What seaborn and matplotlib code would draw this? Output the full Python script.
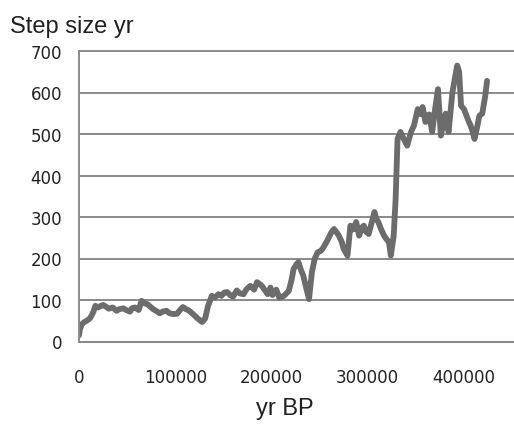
import matplotlib
matplotlib.use("Agg")
import pandas as pd
import seaborn as sns
import matplotlib.pyplot as plt

# Step size (yr) against age (kyr BP)
age_kyr = [0, 1, 3, 5, 8, 11, 13, 15, 17, 20, 22, 25, 28, 31, 35, 37, 39, 42, 46, 49,
           53, 55, 58, 62, 65, 68, 71, 74, 77, 80, 84, 87, 91, 94, 98, 102, 105, 108,
           111, 114, 119, 123, 128, 131, 134, 138, 141, 145, 148, 151, 154, 157, 160,
           164, 167, 171, 174, 178, 182, 185, 188, 190, 193, 196, 199, 201, 205, 208,
           213, 218, 221, 223, 226, 228, 231, 233, 236, 239, 242, 245, 248, 251, 253,
           256, 258, 262, 265, 268, 270, 273, 275, 279, 282, 285, 288, 291, 294, 296,
           298, 301, 304, 307, 309, 311, 314, 317, 320, 322, 324, 327, 329, 331, 334,
           337, 341, 345, 348, 352, 355, 357, 360, 362, 364, 367, 370, 373, 376, 378,
           381, 384, 388, 391, 393, 395, 397, 400, 402, 405, 407, 409, 411, 414, 416,
           419, 422, 424]
step_yr = [15, 30, 42, 46, 50, 55, 62, 72, 86, 82, 85, 88, 84, 79, 82, 78, 74, 78, 80,
           76, 72, 80, 82, 76, 98, 92, 90, 84, 78, 74, 68, 72, 74, 68, 66, 67, 76, 83,
           78, 75, 65, 56, 47, 55, 85, 110, 106, 114, 110, 118, 119, 112, 108, 123, 116,
           114, 126, 134, 125, 143, 138, 134, 124, 114, 130, 112, 125, 106, 110, 122,
           150, 175, 186, 191, 170, 159, 130, 102, 167, 200, 215, 218, 223, 235, 243,
           262, 271, 262, 255, 240, 223, 207, 279, 270, 288, 255, 275, 279, 265, 259,
           285, 312, 295, 288, 270, 255, 245, 240, 207, 255, 343, 488, 505, 490, 472,
           505, 520, 560, 548, 565, 529, 545, 547, 505, 560, 608, 496, 520, 549, 505,
           600, 640, 665, 650, 568, 560, 548, 530, 520, 505, 488, 520, 544, 549, 590,
           628]

df = pd.DataFrame({"age": [a * 1000 for a in age_kyr], "step": step_yr})

sns.set_style("white")
plt.rcParams["font.family"] = ["DejaVu Sans"]

fig = plt.figure(figsize=(5.14, 4.27), dpi=100)
ax = fig.add_axes([79 / 514, (427 - 342.5) / 427, (514 - 79) / 514, (342.5 - 52) / 427])

grid_c = "#8a8a8a"
sns.lineplot(data=df, x="age", y="step", ax=ax, color="#6c6c6c", linewidth=4.2,
             solid_joinstyle="round", solid_capstyle="round")

ax.set_xlim(0, 452000)
ax.set_ylim(0, 700)
ax.set_xticks(range(0, 400001, 100000))
ax.set_yticks(range(0, 701, 100))
ax.set_xlabel("")
ax.set_ylabel("")

ax.yaxis.grid(True, color=grid_c, linewidth=1.4)
for gl in ax.get_ygridlines():
    gl.set_clip_on(False)
ax.set_axisbelow(True)

for s in ["top", "right"]:
    ax.spines[s].set_visible(False)
for s in ["left", "bottom"]:
    ax.spines[s].set_color(grid_c)
    ax.spines[s].set_linewidth(1.4)

ax.tick_params(axis="y", direction="out", length=4.3, width=1.4, color=grid_c,
               pad=8, labelsize=12, labelcolor="#222222")
ax.tick_params(axis="x", direction="out", length=4.3, width=1.4, color=grid_c,
               pad=15, labelsize=12, labelcolor="#222222")

fig.text(10 / 514, 1 - 33 / 427, "Step size yr", fontsize=17, family="Liberation Sans",
         color="#202020", va="baseline", ha="left")
fig.text(285 / 514, 1 - 415 / 427, "yr BP", fontsize=17, family="Liberation Sans",
         color="#202020", va="baseline", ha="center")

fig.savefig("out.png", dpi=100)
